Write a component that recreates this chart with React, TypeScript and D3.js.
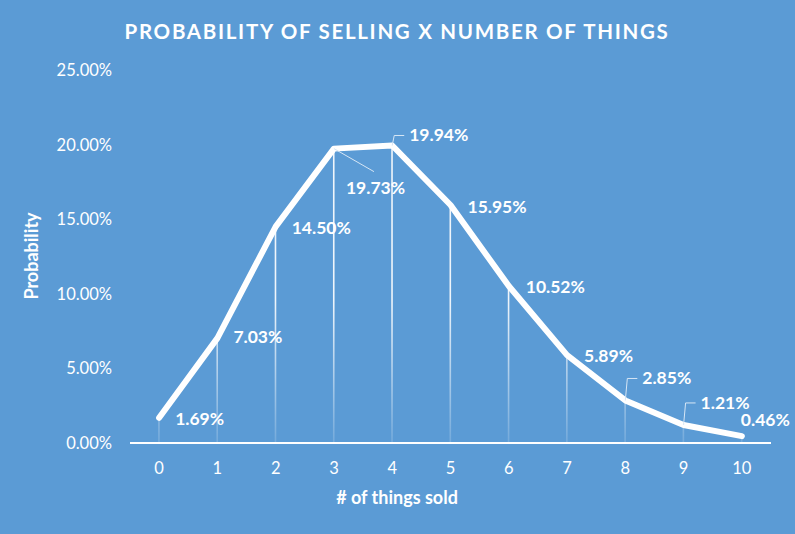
import React, { useEffect, useRef } from "react";
import * as d3 from "d3";

const categories = ["0", "1", "2", "3", "4", "5", "6", "7", "8", "9", "10"];
const probabilities = [0.0169, 0.0703, 0.145, 0.1973, 0.1994, 0.1595, 0.1052, 0.0589, 0.0285, 0.0121, 0.0046];
const yTicks = [0, 0.05, 0.1, 0.15, 0.2, 0.25];

const W = 795;
const H = 534;
const FONT = "Lato, 'Open Sans', sans-serif";
const BG = "#5b9bd5";

// label placement (offset from point) – style, not data
const labelDx = [16, 16, 16, 12, 17, 17, 17, 17, 17, 17, -1];
const labelDy = [7, 5, 7, 45, -4, 8, 7, 7, -16, -16, -10];

export default function App() {
  const ref = useRef<SVGSVGElement>(null);

  useEffect(() => {
    const svg = d3.select(ref.current);
    svg.selectAll("*").remove();

    const x = d3.scaleBand().domain(categories).range([130, 771]);
    const y = d3.scaleLinear().domain([0, 0.25]).range([443, 70]);
    const cx = (i: number) => (x(categories[i]) as number) + x.bandwidth() / 2;

    svg.append("rect").attr("width", W).attr("height", H).attr("fill", BG);

    const defs = svg.append("defs");
    const grad = defs.append("linearGradient")
      .attr("id", "dropGrad")
      .attr("gradientUnits", "userSpaceOnUse")
      .attr("x1", 0).attr("x2", 0).attr("y1", 300).attr("y2", 443);
    grad.append("stop").attr("offset", "0%").attr("stop-color", "#fff").attr("stop-opacity", 0.9);
    grad.append("stop").attr("offset", "100%").attr("stop-color", "#fff").attr("stop-opacity", 0.15);

    // title
    svg.append("text")
      .attr("x", 397).attr("y", 39)
      .attr("text-anchor", "middle")
      .attr("fill", "#fff")
      .attr("font-family", FONT)
      .attr("font-weight", "bold")
      .attr("font-size", 20.5)
      .attr("letter-spacing", 1.7)
      .text("PROBABILITY OF SELLING X NUMBER OF THINGS");

    // y ticks
    svg.append("g").selectAll("text")
      .data(yTicks)
      .join("text")
      .attr("x", 112)
      .attr("y", d => y(d) + 6)
      .attr("text-anchor", "end")
      .attr("fill", "#fff")
      .attr("font-family", FONT)
      .attr("font-size", 16.5)
      .text(d => d3.format(".2%")(d));

    // x tick labels
    svg.append("g").selectAll("text")
      .data(categories)
      .join("text")
      .attr("x", (_, i) => cx(i))
      .attr("y", 474)
      .attr("text-anchor", "middle")
      .attr("fill", "#fff")
      .attr("font-family", FONT)
      .attr("font-size", 16.5)
      .text(d => d);

    // drop lines
    svg.append("g").selectAll("rect")
      .data(probabilities)
      .join("rect")
      .attr("x", (_, i) => cx(i) - 1)
      .attr("y", d => y(d))
      .attr("width", 1.6)
      .attr("height", d => 443 - y(d))
      .attr("fill", "url(#dropGrad)");

    // x axis line
    svg.append("line")
      .attr("x1", 130).attr("x2", 771)
      .attr("y1", 443).attr("y2", 443)
      .attr("stroke", "#fff").attr("stroke-width", 2);

    // main line
    const line = d3.line<number>()
      .x((_, i) => cx(i))
      .y(d => y(d));
    svg.append("path")
      .datum(probabilities)
      .attr("d", line)
      .attr("fill", "none")
      .attr("stroke", "#fff")
      .attr("stroke-width", 6)
      .attr("stroke-linejoin", "round")
      .attr("stroke-linecap", "round");

    // leader lines
    const leaders = svg.append("g")
      .attr("fill", "none")
      .attr("stroke", "#d6e6f5")
      .attr("stroke-width", 1);
    // 19.73%: diagonal to label
    leaders.append("path")
      .attr("d", `M${cx(3)},${y(probabilities[3])}L${cx(3) + 40},${y(probabilities[3]) + 23}`);
    [4, 8, 9].forEach(i => {
      const px = cx(i), py = y(probabilities[i]);
      const ty = py + labelDy[i] - 6;
      leaders.append("path")
        .attr("d", `M${px},${py}L${px + 2},${ty}L${px + 12},${ty}`);
    });

    // data labels
    svg.append("g").selectAll("text")
      .data(probabilities)
      .join("text")
      .attr("x", (_, i) => cx(i) + labelDx[i])
      .attr("y", (d, i) => y(d) + labelDy[i])
      .attr("fill", "#fff")
      .attr("font-family", FONT)
      .attr("font-weight", "bold")
      .attr("font-size", 17.5)
      .text(d => d3.format(".2%")(d));

    // axis titles
    svg.append("text")
      .attr("x", 397).attr("y", 504)
      .attr("text-anchor", "middle")
      .attr("fill", "#fff")
      .attr("font-family", FONT)
      .attr("font-weight", "bold")
      .attr("font-size", 18)
      .text("# of things sold");

    svg.append("text")
      .attr("transform", "translate(38,256) rotate(-90)")
      .attr("text-anchor", "middle")
      .attr("fill", "#fff")
      .attr("font-family", FONT)
      .attr("font-weight", "bold")
      .attr("font-size", 18)
      .text("Probability");
  }, []);

  return (
    <svg ref={ref} width={W} height={H} style={{ display: "block", position: "absolute", left: 0, top: 0 }} />
  );
}
